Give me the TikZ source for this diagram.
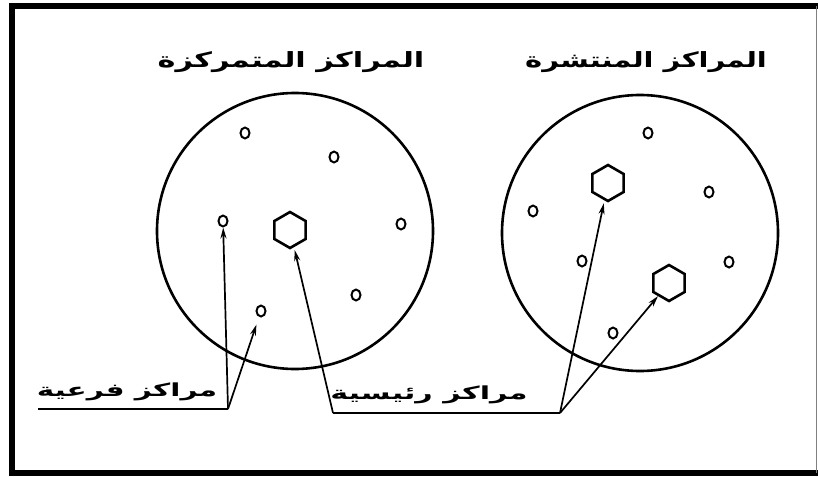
\documentclass[tikz,border=0pt]{standalone}
\usepackage{fontspec}
\newfontfamily\arabicfont[Script=Arabic]{DejaVu Sans}
\TeXXeTstate=1
\usetikzlibrary{shapes.geometric,arrows.meta}
\tikzset{
  big/.style={draw, circle, line width=2.6pt, minimum size=276pt, inner sep=0pt},
  dot/.style={draw, ellipse, line width=2pt, minimum width=9pt, minimum height=11pt, inner sep=0pt},
  hexa/.style={draw, regular polygon, regular polygon sides=6, shape border rotate=30, line width=2.6pt, minimum size=36pt, inner sep=0pt},
  title/.style={font=\arabicfont\bfseries\fontsize{21}{26}\selectfont, inner sep=0pt},
  lbl/.style={font=\arabicfont\bfseries\fontsize{18}{22}\selectfont, inner sep=0pt},
  arr/.style={line width=1.7pt, -{Stealth[length=11pt,width=6pt]}},
  uline/.style={line width=1.7pt}
}
\begin{document}
\begin{tikzpicture}[x=1pt,y=-1pt]
\useasboundingbox (0,0) rectangle (818,476);
\fill[white] (0,0) rectangle (818,476);
% frame
\draw[line width=6pt] (12,473) -- (12,6.5) -- (818,6.5);
\draw[line width=6pt] (9,473) -- (818,473);
\draw[line width=0.8pt, gray] (816,6.5) -- (816,473);
% titles
\node[title] (t1) at (291,62) {\scalebox{1.445}[1]{\beginR المراكز المتمركزة\endR}};
\node[title] (t2) at (646,62) {\scalebox{1.38}[1]{\beginR المراكز المنتشرة\endR}};
% big circles
\node[big] (C1) at (295,231) {};
\node[big] (C2) at (640,233) {};
% left small centres
\node[dot] (a1) at (245,133) {};
\node[dot] (a2) at (334,157) {};
\node[dot] (a3) at (223,221) {};
\node[dot] (a4) at (401,224) {};
\node[dot] (a5) at (356,295) {};
\node[dot] (a6) at (261,311) {};
\node[hexa] (h1) at (290,230) {};
% right small centres
\node[dot] (b1) at (648,133) {};
\node[dot] (b2) at (709,192) {};
\node[dot] (b3) at (533,211) {};
\node[dot] (b4) at (582,261) {};
\node[dot] (b5) at (729,262) {};
\node[dot] (b6) at (613,333) {};
\node[hexa] (h2) at (608,183) {};
\node[hexa] (h3) at (669,283) {};
% labels
\node[lbl] (L1) at (127,392) {\scalebox{1.64}[1]{\beginR مراكز فرعية\endR}};
\node[lbl] (L2) at (429,395) {\scalebox{1.68}[1]{\beginR مراكز رئيسية\endR}};
\coordinate (u1s) at (38,409);
\coordinate (u1e) at (228,409);
\coordinate (u2s) at (333,413);
\coordinate (u2e) at (560,413);
\draw[uline] (u1s) -- (u1e);
\draw[uline] (u2s) -- (u2e);
% arrows
\draw[arr] (u1e) -- (a3);
\draw[arr, shorten >=8pt] (u1e) -- (a6);
\draw[arr, shorten >=3pt] (u2s) -- (h1);
\draw[arr, shorten >=3pt] (u2e) -- (h2);
\draw[arr] (u2e) -- (h3);
\end{tikzpicture}
\end{document}
